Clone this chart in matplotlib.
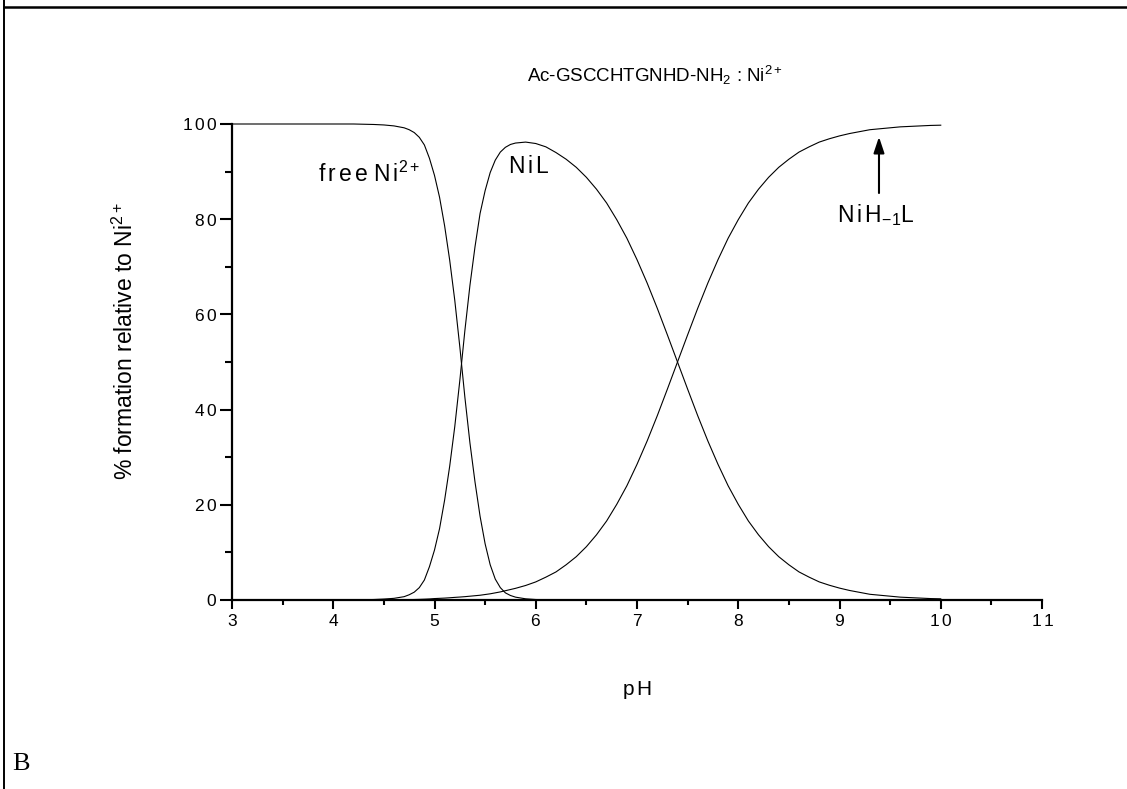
import matplotlib
matplotlib.use("Agg")
import matplotlib.pyplot as plt
from matplotlib.lines import Line2D
from matplotlib.ticker import FixedLocator

plt.rcParams['font.family'] = ['Liberation Sans', 'DejaVu Sans']
plt.rcParams['mathtext.fontset'] = 'custom'
plt.rcParams['mathtext.rm'] = 'Liberation Sans'
plt.rcParams['mathtext.it'] = 'Liberation Sans:italic'
plt.rcParams['mathtext.bf'] = 'Liberation Sans:bold'

# ---------------- data ----------------
pH = [3.0, 3.5, 4.0, 4.2, 4.4, 4.5, 4.6,
      4.7, 4.75, 4.8, 4.85, 4.9, 4.95, 5.0, 5.05, 5.1, 5.15, 5.2, 5.25,
      5.3, 5.35, 5.4, 5.45, 5.5, 5.55, 5.6, 5.65, 5.7, 5.75, 5.8,
      5.9, 6.0, 6.1, 6.2, 6.3, 6.4, 6.5, 6.6, 6.7, 6.8, 6.9, 7.0,
      7.1, 7.2, 7.3, 7.4, 7.5, 7.6, 7.7, 7.8, 7.9, 8.0,
      8.1, 8.2, 8.3, 8.4, 8.5, 8.6, 8.7, 8.8, 8.9, 9.0,
      9.1, 9.2, 9.3, 9.4, 9.5, 9.6, 9.7, 9.8, 9.9, 10.0]

free_ni = [100, 100, 100, 100, 99.9, 99.8, 99.6,
           99.2, 98.8, 98.2, 97.2, 95.6, 92.8, 89.2, 84.6, 78.6, 71.4, 63.0, 53.2,
           42.6, 33.0, 24.8, 17.6, 11.8, 7.4, 4.4, 2.6, 1.5, 0.95, 0.6,
           0.25, 0.1, 0.05, 0, 0, 0, 0, 0, 0, 0, 0, 0,
           0, 0, 0, 0, 0, 0, 0, 0, 0, 0,
           0, 0, 0, 0, 0, 0, 0, 0, 0, 0,
           0, 0, 0, 0, 0, 0, 0, 0, 0, 0]

ni_l = [0, 0, 0, 0.02, 0.1, 0.2, 0.35,
        0.7, 1.1, 1.65, 2.6, 4.2, 7.0, 10.5, 15.0, 21.0, 28.1, 36.4, 46.1,
        56.6, 66.1, 74.2, 81.2, 86.0, 89.8, 92.4, 94.1, 95.1, 95.7, 96.0,
        96.2, 95.9, 95.2, 94.0, 92.6, 90.9, 88.8, 86.3, 83.4, 79.9, 76.0, 71.5,
        66.6, 61.3, 55.7, 50.0, 44.3, 38.7, 33.4, 28.5, 24.0, 20.1,
        16.6, 13.7, 11.2, 9.1, 7.4, 5.9, 4.8, 3.8, 3.1, 2.5,
        2.0, 1.6, 1.2, 1.0, 0.8, 0.6, 0.5, 0.4, 0.3, 0.25]

ni_h1_l = [0, 0, 0, 0, 0, 0, 0.02,
           0.05, 0.07, 0.1, 0.13, 0.17, 0.22, 0.3, 0.35, 0.4, 0.47, 0.55, 0.62,
           0.7, 0.8, 0.9, 1.0, 1.15, 1.3, 1.5, 1.7, 1.95, 2.2, 2.45,
           3.05, 3.8, 4.8, 5.9, 7.4, 9.1, 11.2, 13.7, 16.6, 20.1, 24.0, 28.5,
           33.4, 38.7, 44.3, 50.0, 55.7, 61.3, 66.6, 71.5, 76.0, 79.9,
           83.4, 86.3, 88.8, 90.9, 92.6, 94.1, 95.2, 96.2, 96.9, 97.5,
           98.0, 98.4, 98.8, 99.0, 99.2, 99.4, 99.5, 99.6, 99.7, 99.75]

x_ticks = [3, 4, 5, 6, 7, 8, 9, 10, 11]
x_minor = [3.5, 4.5, 5.5, 6.5, 7.5, 8.5, 9.5, 10.5]
y_ticks = [0, 20, 40, 60, 80, 100]
y_minor = [10, 30, 50, 70, 90]


def spaced(s, gap=r'\,'):
    return '$\\mathrm{' + gap.join(s) + '}$'


W, H = 1127, 789
fig = plt.figure(figsize=(W / 100, H / 100), dpi=100)
fig.patch.set_facecolor('white')

ax = fig.add_axes([232 / W, 1 - 600 / H, 810 / W, 476 / H])
for yv in (free_ni, ni_l, ni_h1_l):
    ax.plot(pH, yv, color='black', lw=0.8, clip_on=False)

ax.set_xlim(3, 11)
ax.set_ylim(0, 100)
ax.spines['top'].set_visible(False)
ax.spines['right'].set_visible(False)
for s in ('left', 'bottom'):
    ax.spines[s].set_linewidth(1.6)

ax.xaxis.set_major_locator(FixedLocator(x_ticks))
ax.xaxis.set_minor_locator(FixedLocator(x_minor))
ax.yaxis.set_major_locator(FixedLocator(y_ticks))
ax.yaxis.set_minor_locator(FixedLocator(y_minor))
ax.set_xticklabels([spaced(str(t)) for t in x_ticks])
ax.set_yticklabels([spaced(str(t)) for t in y_ticks])
ax.tick_params(axis='x', which='major', direction='out', length=6.5, width=1.5,
               labelsize=12.5, pad=3)
ax.tick_params(axis='x', which='minor', direction='out', length=3.6, width=1.5)
ax.tick_params(axis='y', which='major', direction='out', length=9, width=1.5,
               labelsize=12.5, pad=2)
ax.tick_params(axis='y', which='minor', direction='out', length=5, width=1.5)

# axis labels
fig.text(637 / W, 1 - 690 / H, spaced('pH'), ha='center', va='center', fontsize=15)
fig.text(125 / W, 1 - 341 / H, r'% formation relative to $\mathrm{Ni}^{2+}$',
         rotation=90, ha='center', va='center', fontsize=16.5)

# title
title = r'Ac-GSCCHTGNHD-NH$_{2}$ : Ni$^{2+}$'
fig.text(783 / W, 1 - 82 / H, title, ha='right', va='baseline', fontsize=13.5)

# curve annotations
ax.text(3.85, 87.8, r'$\mathrm{f\,r\,e\,e}$ $\mathrm{N\,i}^{2+}$', fontsize=16.5,
        ha='left', va='baseline')
ax.text(5.73, 89.7, r'$\mathrm{N\,i\,L}$', fontsize=16.5, ha='left', va='baseline')
ax.text(8.975, 79.4, r'$\mathrm{N\,i\,H}_{-1}\mathrm{L}$', fontsize=16.5,
        ha='left', va='baseline')
ax.annotate('', xy=(9.39, 97.3), xytext=(9.39, 85.5),
            arrowprops=dict(arrowstyle='-|>,head_length=0.6,head_width=0.2',
                            mutation_scale=16, color='black', lw=1.5,
                            shrinkA=0, shrinkB=0))

# frame lines of the original panel
fig.add_artist(Line2D([4 / W, 4 / W], [0, 1], transform=fig.transFigure,
                      color='black', lw=1.4))
fig.add_artist(Line2D([4 / W, 1], [1 - 7 / H, 1 - 7 / H], transform=fig.transFigure,
                      color='black', lw=1.8))
fig.text(12 / W, 1 - 770 / H, 'B', family='Liberation Serif', fontsize=19,
         ha='left', va='baseline')

fig.savefig('out.png', dpi=100, facecolor='white')
